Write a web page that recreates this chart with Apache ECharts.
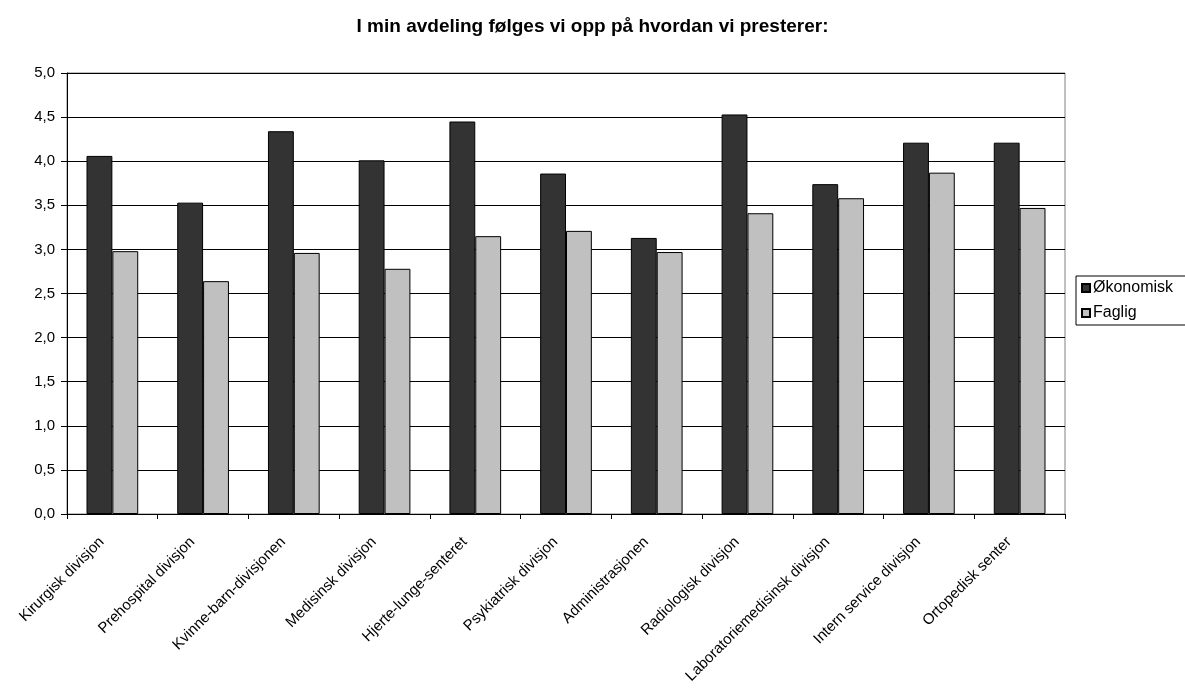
<!DOCTYPE html>
<html><head><meta charset="utf-8">
<script src="https://cdn.jsdelivr.net/npm/echarts@6/dist/echarts.min.js"></script>
<style>html,body{margin:0;padding:0;background:#fff}#c{width:1185px;height:691px}</style>
</head><body><div id="c"></div>
<script>
const categories = ["Kirurgisk divisjon","Prehospital divisjon","Kvinne-barn-divisjonen","Medisinsk divisjon","Hjerte-lunge-senteret","Psykiatrisk divisjon","Administrasjonen","Radiologisk divisjon","Laboratoriemedisinsk divisjon","Intern service divisjon","Ortopedisk senter"];
const okonomisk = [4.06, 3.53, 4.34, 4.01, 4.45, 3.86, 3.13, 4.53, 3.74, 4.21, 4.21];
const faglig = [2.98, 2.64, 2.96, 2.78, 3.15, 3.21, 2.97, 3.41, 3.58, 3.87, 3.47];
const titleText = "I min avdeling følges vi opp på hvordan vi presterer:";
const seriesNames = ["Økonomisk", "Faglig"];

const font = "'Liberation Sans', Arial, sans-serif";
const chart = echarts.init(document.getElementById('c'), null, {renderer: 'canvas'});
chart.setOption({
  animation: false,
  textStyle: {fontFamily: font},
  title: {text: titleText, left: 'center', top: 12, textStyle: {fontFamily: font, fontSize: 19, fontWeight: 'bold', color: '#000'}},
  legend: {
    orient: 'vertical', left: 1076, top: 276,
    itemWidth: 8, itemHeight: 8, itemGap: 7,
    borderColor: '#000', borderWidth: 1, padding: [3, 30, 3, 5],
    textStyle: {fontFamily: font, fontSize: 16, lineHeight: 18, color: '#000', padding: [0, 0, 0, -2]},
    data: seriesNames.map(n => ({name: n, icon: 'rect'}))
  },
  grid: {left: 67, right: 120, top: 73, bottom: 177, show: true, borderColor: '#808080', borderWidth: 1},
  xAxis: {
    type: 'category', data: categories,
    axisLine: {lineStyle: {color: '#000', width: 1}},
    axisTick: {show: true, length: 5, lineStyle: {color: '#000'}},
    axisLabel: {rotate: 45, fontFamily: font, fontSize: 15, color: '#000', margin: 15, interval: 0, padding: [0, 15, 0, 0]}
  },
  yAxis: {
    type: 'value', min: 0, max: 5, interval: 0.5,
    axisLine: {show: true, lineStyle: {color: '#000', width: 1}},
    axisTick: {show: true, length: 6, lineStyle: {color: '#000'}},
    splitLine: {lineStyle: {color: '#000', width: 1}},
    axisLabel: {fontFamily: font, fontSize: 15, color: '#000', margin: 12,
      formatter: v => v.toFixed(1).replace('.', ',')}
  },
  series: [
    {name: seriesNames[0], type: 'bar', data: okonomisk, barGap: '0%', barCategoryGap: '43%',
      itemStyle: {color: '#333333', borderColor: '#000', borderWidth: 1}},
    {name: seriesNames[1], type: 'bar', data: faglig,
      itemStyle: {color: '#c0c0c0', borderColor: '#000', borderWidth: 1}}
  ]
});
</script></body></html>
